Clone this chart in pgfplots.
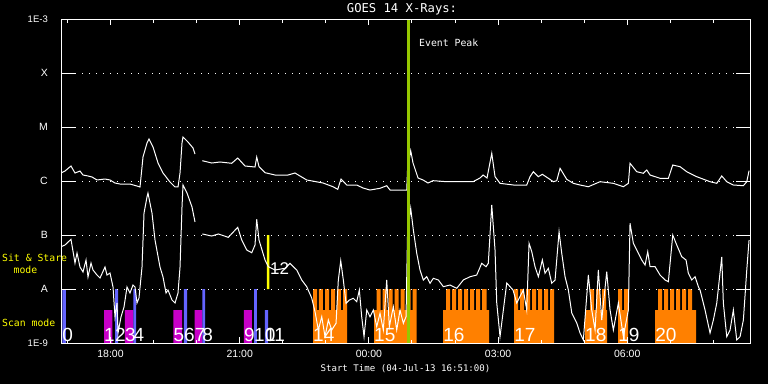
\documentclass[border=0pt]{standalone}
\usepackage{fontspec}
\setmainfont{Liberation Sans}
\newfontfamily\monofont{DejaVu Sans Mono}
\usepackage{pgfplots}
\pgfplotsset{compat=1.18}
\definecolor{scanblue}{RGB}{100,100,255}
\definecolor{scanmag}{RGB}{200,0,200}
\definecolor{scanorange}{RGB}{255,128,0}
\definecolor{peakgreen}{RGB}{150,200,0}
\definecolor{ssyellow}{RGB}{255,255,0}
\begin{document}
\begin{tikzpicture}[x=1pt,y=1pt]
\fill[black] (0,0) rectangle (768,384);
\path[use as bounding box] (0,0) rectangle (768,384);
\begin{axis}[
  at={(61pt,41pt)}, anchor=south west,
  scale only axis, width=689pt, height=324pt,
  xmin=16.85, xmax=32.85, ymin=-9, ymax=-3,
  axis on top,
  axis line style={white, line width=1pt},
  xtick={18,21,24,27,30},
  xticklabels={18:00,21:00,00:00,03:00,06:00},
  minor xtick={17,19,20,22,23,25,26,28,29,31,32},
  ytick={-9,-8,-7,-6,-5,-4,-3},
  yticklabels={{\fontsize{9.5}{10}\selectfont 1E-9},A,B,C,M,X,{\fontsize{9.5}{10}\selectfont 1E-3}},
  tick style={white, line width=1pt},
  major tick length=6pt, minor tick length=3.5pt,
  ymajorgrids,
  grid style={white, line width=1pt, dash pattern=on 1pt off 6pt},
  ticklabel style={white, font=\fontsize{10.5}{12}\selectfont},
  xticklabel style={anchor=north, inner sep=0pt, yshift=-7pt},
  yticklabel style={anchor=east, inner sep=0pt, xshift=-13pt},
  xlabel={Start Time (04-Jul-13 16:51:00)},
  xlabel style={white, anchor=north, inner sep=0pt, at={(axis description cs:0.5,0)}, yshift=-21pt, font=\monofont\fontsize{9.1}{10}\selectfont},
]
% scan mode blocks
\addplot[const plot, fill=scanmag, draw=none] coordinates {
(17.849,-9)(17.849,-8.389)(18.041,-9)
(18.336,-9)(18.336,-8.389)(18.529,-9)
(19.458,-9)(19.458,-8.389)(19.660,-9)
(19.955,-9)(19.955,-8.389)(20.131,-9)
(21.099,-9)(21.099,-8.389)(21.285,-9)};
\addplot[const plot, fill=scanblue, draw=none] coordinates {
(16.880,-9)(16.880,-8)(16.966,-9)
(18.104,-9)(18.104,-8)(18.174,-9)
(18.529,-9)(18.529,-8)(18.592,-9)
(19.706,-9)(19.706,-8)(19.776,-9)
(20.131,-9)(20.131,-8)(20.194,-9)
(21.332,-9)(21.332,-8)(21.401,-9)
(21.587,-9)(21.587,-8.389)(21.657,-9)};
\addplot[const plot, fill=ssyellow, draw=none] coordinates {(21.633,-8)(21.633,-7)(21.687,-8)};
\addplot[const plot, fill=scanorange, draw=none] coordinates {
(22.702,-9)(22.702,-8)(22.795,-8.389)(22.841,-8)(22.934,-8.389)(22.981,-8)(23.074,-8.389)(23.120,-8)(23.213,-8.389)(23.259,-8)(23.352,-8.389)(23.399,-8)(23.492,-9)};
\addplot[const plot, fill=scanorange, draw=none] coordinates {
(24.119,-9)(24.119,-8.389)(24.177,-8)(24.270,-8.389)(24.316,-8)(24.409,-8.389)(24.456,-8)(24.549,-8.389)(24.595,-8)(24.688,-8.389)(24.734,-8)(24.827,-8.389)(24.874,-8)(24.967,-8.389)(25.013,-8)(25.111,-9)};
\addplot[const plot, fill=scanorange, draw=none] coordinates {
(25.722,-9)(25.722,-8.389)(25.791,-8)(25.884,-8.389)(25.930,-8)(26.023,-8.389)(26.070,-8)(26.163,-8.389)(26.209,-8)(26.302,-8.389)(26.348,-8)(26.441,-8.389)(26.488,-8)(26.581,-8.389)(26.627,-8)(26.732,-8.389)(26.790,-9)};
\addplot[const plot, fill=scanorange, draw=none] coordinates {
(27.371,-9)(27.371,-8)(27.464,-8.389)(27.510,-8)(27.603,-8.389)(27.650,-8)(27.743,-8.389)(27.789,-8)(27.882,-8.389)(27.928,-8)(28.021,-8.389)(28.068,-8)(28.161,-8.389)(28.207,-8)(28.299,-9)};
\addplot[const plot, fill=scanorange, draw=none] coordinates {
(29.019,-9)(29.019,-8.389)(29.136,-8)(29.229,-8.389)(29.275,-8)(29.368,-8.389)(29.415,-8)(29.508,-8.389)(29.530,-9)};
\addplot[const plot, fill=scanorange, draw=none] coordinates {
(29.786,-9)(29.786,-8)(29.879,-8.389)(29.925,-8)(30.018,-9)};
\addplot[const plot, fill=scanorange, draw=none] coordinates {
(30.645,-9)(30.645,-8.389)(30.715,-8)(30.808,-8.389)(30.854,-8)(30.947,-8.389)(30.994,-8)(31.087,-8.389)(31.133,-8)(31.226,-8.389)(31.272,-8)(31.365,-8.389)(31.412,-8)(31.505,-8.389)(31.597,-9)};
% long channel (log10 flux)
\addplot[white, line width=1pt] coordinates {
(16.850,-5.852) (16.943,-5.815) (17.082,-5.722) (17.175,-5.852) (17.291,-5.815) (17.361,-5.889) (17.477,-5.907) (17.570,-5.926) (17.686,-5.981) (17.872,-5.963) (17.988,-5.981) (18.104,-6.037) (18.220,-6.056) (18.452,-6.056) (18.615,-6.093) (18.685,-6.111) (18.754,-5.556) (18.847,-5.296) (18.894,-5.222) (18.987,-5.370) (19.103,-5.667) (19.219,-5.852) (19.381,-6.019) (19.498,-6.111) (19.567,-6.111) (19.614,-5.852) (19.660,-5.296) (19.683,-5.185) (19.799,-5.278) (19.916,-5.389) (19.962,-5.500)};
\addplot[white, line width=1pt] coordinates {
(20.132,-5.624) (20.350,-5.667) (20.543,-5.648) (20.814,-5.672) (20.954,-5.574) (21.123,-5.722) (21.355,-5.741) (21.395,-5.556) (21.448,-5.735) (21.588,-5.846) (21.820,-5.889) (22.122,-5.889) (22.284,-5.852) (22.556,-5.981) (22.935,-6.037) (23.167,-6.106) (23.276,-6.154) (23.353,-5.963) (23.485,-6.074) (23.717,-6.074) (23.864,-6.130) (24.026,-6.167) (24.258,-6.135) (24.414,-6.087) (24.491,-6.167) (24.879,-6.167) (24.897,-5.796) (24.971,-5.439) (25.025,-5.667) (25.141,-5.944) (25.257,-5.981) (25.373,-6.037) (25.489,-5.994) (25.808,-6.013) (26.116,-6.013) (26.418,-6.013) (26.581,-5.944) (26.651,-5.889) (26.743,-5.944) (26.853,-5.487) (26.929,-5.920) (27.045,-6.043) (27.354,-6.074) (27.665,-6.074) (27.742,-5.920) (27.819,-5.828) (27.935,-5.920) (28.028,-5.876) (28.167,-5.950) (28.283,-6.013) (28.362,-5.994) (28.439,-5.765) (28.594,-5.969) (28.748,-6.043) (28.903,-6.074) (29.096,-6.106) (29.368,-6.013) (29.677,-6.043) (29.909,-6.106) (30.025,-6.043) (30.064,-5.672) (30.220,-5.828) (30.373,-5.857) (30.452,-5.796) (30.529,-5.889) (30.761,-5.950) (30.954,-5.950) (31.056,-5.704) (31.226,-5.735) (31.381,-5.828) (31.613,-5.920) (31.922,-6.013) (32.078,-6.043) (32.194,-5.907) (32.310,-6.013) (32.463,-6.074) (32.696,-6.087) (32.775,-6.013) (32.828,-5.809)};
% short channel (log10 flux)
\addplot[white, line width=1pt] coordinates {
(16.850,-7.217) (16.943,-7.185) (17.082,-7.080) (17.175,-7.519) (17.222,-7.333) (17.291,-7.593) (17.361,-7.685) (17.431,-7.463) (17.477,-7.778) (17.547,-7.519) (17.593,-7.648) (17.686,-7.741) (17.756,-7.796) (17.872,-7.593) (17.918,-7.741) (17.988,-7.704) (18.058,-7.963) (18.104,-8.519) (18.151,-8.259) (18.174,-8.815) (18.243,-8.519) (18.313,-8.333) (18.383,-7.963) (18.452,-8.074) (18.522,-7.926) (18.569,-7.963) (18.615,-8.259) (18.661,-8.167) (18.731,-7.593) (18.778,-6.593) (18.847,-6.296) (18.870,-6.222) (18.963,-6.593) (19.033,-7.093) (19.149,-7.593) (19.219,-7.778) (19.289,-8.074) (19.335,-8.019) (19.428,-8.204) (19.498,-8.259) (19.567,-8.074) (19.614,-7.593) (19.660,-6.481) (19.683,-6.074) (19.776,-6.222) (19.892,-6.481) (19.962,-6.759)};
\addplot[white, line width=1pt] coordinates {
(20.132,-6.981) (20.350,-7.019) (20.503,-6.981) (20.735,-7.043) (20.954,-6.857) (21.047,-7.093) (21.163,-7.278) (21.279,-7.328) (21.355,-7.185) (21.395,-6.709) (21.448,-7.093) (21.588,-7.463) (21.664,-7.587) (21.820,-7.648) (22.052,-7.617) (22.168,-7.524) (22.284,-7.617) (22.324,-7.648) (22.440,-7.833) (22.556,-7.957) (22.672,-8.167) (22.749,-8.420) (22.826,-8.759) (22.905,-8.513) (22.981,-8.883) (23.058,-8.574) (23.137,-8.759) (23.237,-8.635) (23.290,-7.833) (23.346,-7.476) (23.406,-7.833) (23.469,-8.265) (23.546,-8.204) (23.638,-8.172) (23.717,-8.235) (23.778,-8.019) (23.833,-8.513) (23.887,-8.883) (23.950,-8.389) (24.026,-8.513) (24.103,-8.389) (24.182,-8.698) (24.258,-8.450) (24.335,-8.759) (24.414,-7.833) (24.475,-8.698) (24.567,-8.328) (24.646,-8.759) (24.723,-8.389) (24.800,-8.635) (24.862,-8.513) (24.897,-7.000) (24.971,-6.506) (25.032,-6.907) (25.111,-7.339) (25.187,-7.648) (25.264,-7.833) (25.343,-7.772) (25.420,-7.894) (25.496,-7.802) (25.612,-7.833) (25.729,-7.957) (25.884,-7.926) (26.040,-7.987) (26.193,-7.833) (26.349,-7.772) (26.504,-7.741) (26.620,-7.524) (26.720,-7.587) (26.773,-7.524) (26.853,-6.444) (26.929,-7.278) (26.969,-8.259) (27.045,-8.883) (27.201,-7.889) (27.347,-8.019) (27.433,-8.259) (27.586,-8.019) (27.665,-8.389) (27.719,-7.154) (27.782,-7.309) (27.858,-7.587) (27.935,-7.772) (28.028,-7.463) (28.090,-7.709) (28.167,-7.617) (28.246,-7.894) (28.323,-7.833) (28.416,-6.939) (28.478,-7.339) (28.555,-7.772) (28.632,-8.019) (28.711,-8.444) (28.827,-8.630) (28.903,-8.815) (28.980,-8.944) (29.096,-7.741) (29.175,-8.389) (29.252,-8.759) (29.328,-7.648) (29.407,-8.574) (29.523,-7.680) (29.600,-8.389) (29.677,-8.759) (29.793,-8.259) (29.909,-8.883) (30.025,-8.389) (30.064,-6.783) (30.141,-7.154) (30.220,-7.278) (30.336,-7.463) (30.413,-7.556) (30.475,-7.309) (30.529,-7.587) (30.645,-7.587) (30.761,-7.741) (30.877,-7.833) (30.954,-7.865) (31.056,-7.000) (31.149,-7.185) (31.265,-7.402) (31.365,-7.463) (31.418,-7.709) (31.497,-7.833) (31.574,-7.772) (31.651,-7.957) (31.690,-8.019) (31.806,-8.389) (31.922,-8.815) (31.999,-8.574) (32.078,-8.259) (32.194,-7.407) (32.231,-8.259) (32.310,-8.883) (32.387,-8.759) (32.463,-8.389) (32.542,-8.944) (32.619,-8.883) (32.696,-8.574) (32.775,-7.648) (32.828,-7.093)};
% event peak
\addplot[peakgreen, line width=2.7pt] coordinates {(24.914,-9) (24.914,-3)};
% long solid y ticks on both sides
\draw[white, line width=1pt] (axis cs:16.85,-8) -- ++(14pt,0pt);
\draw[white, line width=1pt] (axis cs:16.85,-7) -- ++(14pt,0pt);
\draw[white, line width=1pt] (axis cs:16.85,-6) -- ++(14pt,0pt);
\draw[white, line width=1pt] (axis cs:16.85,-5) -- ++(14pt,0pt);
\draw[white, line width=1pt] (axis cs:16.85,-4) -- ++(14pt,0pt);
\draw[white, line width=1pt] (axis cs:32.85,-8) -- ++(-14pt,0pt);
\draw[white, line width=1pt] (axis cs:32.85,-7) -- ++(-14pt,0pt);
\draw[white, line width=1pt] (axis cs:32.85,-6) -- ++(-14pt,0pt);
\draw[white, line width=1pt] (axis cs:32.85,-5) -- ++(-14pt,0pt);
\draw[white, line width=1pt] (axis cs:32.85,-4) -- ++(-14pt,0pt);
% block numbers
\begin{scope}[every node/.style={white, anchor=base west, inner sep=0pt, font=\fontsize{19}{20}\selectfont}]
\node at (axis cs:16.880,-8.97) {0};
\node at (axis cs:17.849,-8.97) {1};
\node at (axis cs:18.104,-8.97) {2};
\node at (axis cs:18.336,-8.97) {3};
\node at (axis cs:18.529,-8.97) {4};
\node at (axis cs:19.458,-8.97) {5};
\node at (axis cs:19.706,-8.97) {6};
\node at (axis cs:19.955,-8.97) {7};
\node at (axis cs:20.131,-8.97) {8};
\node at (axis cs:21.099,-8.97) {9};
\node at (axis cs:21.332,-8.97) {10};
\node at (axis cs:21.587,-8.97) {11};
\node at (axis cs:22.702,-8.97) {14};
\node at (axis cs:24.119,-8.97) {15};
\node at (axis cs:25.722,-8.97) {16};
\node at (axis cs:27.371,-8.97) {17};
\node at (axis cs:29.019,-8.97) {18};
\node at (axis cs:29.786,-8.97) {19};
\node at (axis cs:30.645,-8.97) {20};
\end{scope}
\node[white, anchor=base west, inner sep=0pt, font=\fontsize{17}{18}\selectfont] at (axis cs:21.700,-7.73) {12};
\end{axis}
\node[white, font=\monofont\fontsize{12.2}{13}\selectfont] at (402,374.5) {GOES 14 X-Rays:};
\node[white, anchor=west, inner sep=0pt, font=\monofont\fontsize{9.8}{11}\selectfont] at (419,341.5) {Event Peak};
\node[ssyellow, anchor=west, inner sep=0pt, font=\monofont\fontsize{9.8}{11}\selectfont] at (2,126) {Sit \& Stare};
\node[ssyellow, anchor=west, inner sep=0pt, font=\monofont\fontsize{9.8}{11}\selectfont] at (13.5,114) {mode};
\node[ssyellow, anchor=west, inner sep=0pt, font=\monofont\fontsize{9.8}{11}\selectfont] at (2,61) {Scan mode};
\end{tikzpicture}
\end{document}
